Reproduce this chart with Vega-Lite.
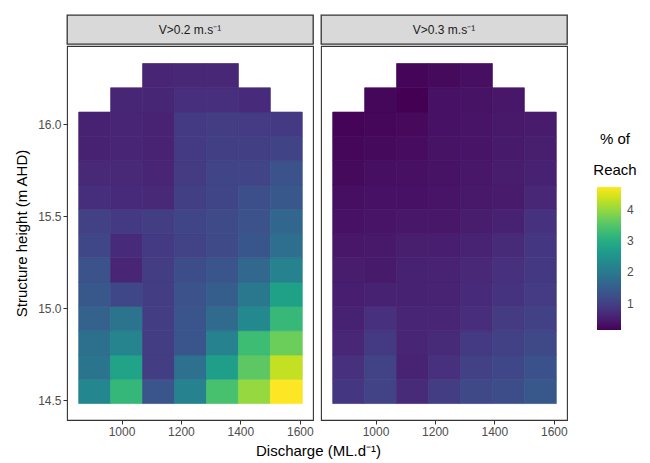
{
  "$schema": "https://vega.github.io/schema/vega-lite/v6.json",
  "background": "white",
  "padding": {"left": 14, "top": 14, "right": 5, "bottom": 5},
  "config": {
    "font": "Liberation Sans",
    "view": {"stroke": "#333333", "strokeWidth": 1.1},
    "axis": {"gridColor": "#ebebeb", "domain": false, "tickColor": "#333333", "tickSize": 4, "labelColor": "#4d4d4d", "labelFontSize": 12, "labelPadding": 2, "titleFontSize": 15, "titleFontWeight": "normal", "titleColor": "#000000", "labelFlush": false, "labelOverlap": false}
  },
  "datasets": {
    "tiles": [
      {"panel":"V>0.2","discharge":908,"height":14.551,"pct":2.24},
      {"panel":"V>0.2","discharge":1015.5,"height":14.551,"pct":3.20},
      {"panel":"V>0.2","discharge":1123,"height":14.551,"pct":1.35},
      {"panel":"V>0.2","discharge":1230.5,"height":14.551,"pct":2.17},
      {"panel":"V>0.2","discharge":1338,"height":14.551,"pct":3.40},
      {"panel":"V>0.2","discharge":1445.5,"height":14.551,"pct":4.00},
      {"panel":"V>0.2","discharge":1553,"height":14.551,"pct":4.72},
      {"panel":"V>0.2","discharge":908,"height":14.683,"pct":1.92},
      {"panel":"V>0.2","discharge":1015.5,"height":14.683,"pct":2.81},
      {"panel":"V>0.2","discharge":1123,"height":14.683,"pct":0.98},
      {"panel":"V>0.2","discharge":1230.5,"height":14.683,"pct":1.86},
      {"panel":"V>0.2","discharge":1338,"height":14.683,"pct":2.72},
      {"panel":"V>0.2","discharge":1445.5,"height":14.683,"pct":3.58},
      {"panel":"V>0.2","discharge":1553,"height":14.683,"pct":4.31},
      {"panel":"V>0.2","discharge":908,"height":14.815,"pct":1.84},
      {"panel":"V>0.2","discharge":1015.5,"height":14.815,"pct":2.20},
      {"panel":"V>0.2","discharge":1123,"height":14.815,"pct":0.97},
      {"panel":"V>0.2","discharge":1230.5,"height":14.815,"pct":1.37},
      {"panel":"V>0.2","discharge":1338,"height":14.815,"pct":2.17},
      {"panel":"V>0.2","discharge":1445.5,"height":14.815,"pct":3.29},
      {"panel":"V>0.2","discharge":1553,"height":14.815,"pct":3.70},
      {"panel":"V>0.2","discharge":908,"height":14.947,"pct":1.58},
      {"panel":"V>0.2","discharge":1015.5,"height":14.947,"pct":1.90},
      {"panel":"V>0.2","discharge":1123,"height":14.947,"pct":0.97},
      {"panel":"V>0.2","discharge":1230.5,"height":14.947,"pct":1.35},
      {"panel":"V>0.2","discharge":1338,"height":14.947,"pct":1.74},
      {"panel":"V>0.2","discharge":1445.5,"height":14.947,"pct":2.31},
      {"panel":"V>0.2","discharge":1553,"height":14.947,"pct":3.22},
      {"panel":"V>0.2","discharge":908,"height":15.079,"pct":1.42},
      {"panel":"V>0.2","discharge":1015.5,"height":15.079,"pct":1.12},
      {"panel":"V>0.2","discharge":1123,"height":15.079,"pct":0.97},
      {"panel":"V>0.2","discharge":1230.5,"height":15.079,"pct":1.31},
      {"panel":"V>0.2","discharge":1338,"height":15.079,"pct":1.51},
      {"panel":"V>0.2","discharge":1445.5,"height":15.079,"pct":1.99},
      {"panel":"V>0.2","discharge":1553,"height":15.079,"pct":2.76},
      {"panel":"V>0.2","discharge":908,"height":15.211,"pct":1.31},
      {"panel":"V>0.2","discharge":1015.5,"height":15.211,"pct":0.63},
      {"panel":"V>0.2","discharge":1123,"height":15.211,"pct":0.97},
      {"panel":"V>0.2","discharge":1230.5,"height":15.211,"pct":1.22},
      {"panel":"V>0.2","discharge":1338,"height":15.211,"pct":1.37},
      {"panel":"V>0.2","discharge":1445.5,"height":15.211,"pct":1.66},
      {"panel":"V>0.2","discharge":1553,"height":15.211,"pct":2.17},
      {"panel":"V>0.2","discharge":908,"height":15.342,"pct":1.12},
      {"panel":"V>0.2","discharge":1015.5,"height":15.342,"pct":0.72},
      {"panel":"V>0.2","discharge":1123,"height":15.342,"pct":0.93},
      {"panel":"V>0.2","discharge":1230.5,"height":15.342,"pct":1.05},
      {"panel":"V>0.2","discharge":1338,"height":15.342,"pct":1.17},
      {"panel":"V>0.2","discharge":1445.5,"height":15.342,"pct":1.38},
      {"panel":"V>0.2","discharge":1553,"height":15.342,"pct":1.80},
      {"panel":"V>0.2","discharge":908,"height":15.474,"pct":1.04},
      {"panel":"V>0.2","discharge":1015.5,"height":15.474,"pct":0.92},
      {"panel":"V>0.2","discharge":1123,"height":15.474,"pct":0.97},
      {"panel":"V>0.2","discharge":1230.5,"height":15.474,"pct":1.10},
      {"panel":"V>0.2","discharge":1338,"height":15.474,"pct":1.17},
      {"panel":"V>0.2","discharge":1445.5,"height":15.474,"pct":1.31},
      {"panel":"V>0.2","discharge":1553,"height":15.474,"pct":1.67},
      {"panel":"V>0.2","discharge":908,"height":15.606,"pct":0.76},
      {"panel":"V>0.2","discharge":1015.5,"height":15.606,"pct":0.72},
      {"panel":"V>0.2","discharge":1123,"height":15.606,"pct":0.69},
      {"panel":"V>0.2","discharge":1230.5,"height":15.606,"pct":1.00},
      {"panel":"V>0.2","discharge":1338,"height":15.606,"pct":1.10},
      {"panel":"V>0.2","discharge":1445.5,"height":15.606,"pct":1.25},
      {"panel":"V>0.2","discharge":1553,"height":15.606,"pct":1.42},
      {"panel":"V>0.2","discharge":908,"height":15.738,"pct":0.69},
      {"panel":"V>0.2","discharge":1015.5,"height":15.738,"pct":0.69},
      {"panel":"V>0.2","discharge":1123,"height":15.738,"pct":0.63},
      {"panel":"V>0.2","discharge":1230.5,"height":15.738,"pct":0.94},
      {"panel":"V>0.2","discharge":1338,"height":15.738,"pct":1.10},
      {"panel":"V>0.2","discharge":1445.5,"height":15.738,"pct":1.08},
      {"panel":"V>0.2","discharge":1553,"height":15.738,"pct":1.31},
      {"panel":"V>0.2","discharge":908,"height":15.870,"pct":0.58},
      {"panel":"V>0.2","discharge":1015.5,"height":15.870,"pct":0.62},
      {"panel":"V>0.2","discharge":1123,"height":15.870,"pct":0.60},
      {"panel":"V>0.2","discharge":1230.5,"height":15.870,"pct":0.92},
      {"panel":"V>0.2","discharge":1338,"height":15.870,"pct":1.01},
      {"panel":"V>0.2","discharge":1445.5,"height":15.870,"pct":1.01},
      {"panel":"V>0.2","discharge":1553,"height":15.870,"pct":1.07},
      {"panel":"V>0.2","discharge":908,"height":16.002,"pct":0.58},
      {"panel":"V>0.2","discharge":1015.5,"height":16.002,"pct":0.62},
      {"panel":"V>0.2","discharge":1123,"height":16.002,"pct":0.60},
      {"panel":"V>0.2","discharge":1230.5,"height":16.002,"pct":0.92},
      {"panel":"V>0.2","discharge":1338,"height":16.002,"pct":0.97},
      {"panel":"V>0.2","discharge":1445.5,"height":16.002,"pct":0.95},
      {"panel":"V>0.2","discharge":1553,"height":16.002,"pct":0.92},
      {"panel":"V>0.2","discharge":1015.5,"height":16.134,"pct":0.64},
      {"panel":"V>0.2","discharge":1123,"height":16.134,"pct":0.64},
      {"panel":"V>0.2","discharge":1230.5,"height":16.134,"pct":0.78},
      {"panel":"V>0.2","discharge":1338,"height":16.134,"pct":0.78},
      {"panel":"V>0.2","discharge":1445.5,"height":16.134,"pct":0.72},
      {"panel":"V>0.2","discharge":1123,"height":16.266,"pct":0.62},
      {"panel":"V>0.2","discharge":1230.5,"height":16.266,"pct":0.66},
      {"panel":"V>0.2","discharge":1338,"height":16.266,"pct":0.66},

      {"panel":"V>0.3","discharge":908,"height":14.551,"pct":0.87},
      {"panel":"V>0.3","discharge":1015.5,"height":14.551,"pct":1.06},
      {"panel":"V>0.3","discharge":1123,"height":14.551,"pct":0.71},
      {"panel":"V>0.3","discharge":1230.5,"height":14.551,"pct":0.97},
      {"panel":"V>0.3","discharge":1338,"height":14.551,"pct":1.15},
      {"panel":"V>0.3","discharge":1445.5,"height":14.551,"pct":1.22},
      {"panel":"V>0.3","discharge":1553,"height":14.551,"pct":1.42},
      {"panel":"V>0.3","discharge":908,"height":14.683,"pct":0.79},
      {"panel":"V>0.3","discharge":1015.5,"height":14.683,"pct":1.06},
      {"panel":"V>0.3","discharge":1123,"height":14.683,"pct":0.60},
      {"panel":"V>0.3","discharge":1230.5,"height":14.683,"pct":0.79},
      {"panel":"V>0.3","discharge":1338,"height":14.683,"pct":1.03},
      {"panel":"V>0.3","discharge":1445.5,"height":14.683,"pct":1.13},
      {"panel":"V>0.3","discharge":1553,"height":14.683,"pct":1.29},
      {"panel":"V>0.3","discharge":908,"height":14.815,"pct":0.65},
      {"panel":"V>0.3","discharge":1015.5,"height":14.815,"pct":0.92},
      {"panel":"V>0.3","discharge":1123,"height":14.815,"pct":0.62},
      {"panel":"V>0.3","discharge":1230.5,"height":14.815,"pct":0.71},
      {"panel":"V>0.3","discharge":1338,"height":14.815,"pct":0.92},
      {"panel":"V>0.3","discharge":1445.5,"height":14.815,"pct":1.04},
      {"panel":"V>0.3","discharge":1553,"height":14.815,"pct":1.15},
      {"panel":"V>0.3","discharge":908,"height":14.947,"pct":0.58},
      {"panel":"V>0.3","discharge":1015.5,"height":14.947,"pct":0.79},
      {"panel":"V>0.3","discharge":1123,"height":14.947,"pct":0.62},
      {"panel":"V>0.3","discharge":1230.5,"height":14.947,"pct":0.63},
      {"panel":"V>0.3","discharge":1338,"height":14.947,"pct":0.74},
      {"panel":"V>0.3","discharge":1445.5,"height":14.947,"pct":0.94},
      {"panel":"V>0.3","discharge":1553,"height":14.947,"pct":1.04},
      {"panel":"V>0.3","discharge":908,"height":15.079,"pct":0.54},
      {"panel":"V>0.3","discharge":1015.5,"height":15.079,"pct":0.58},
      {"panel":"V>0.3","discharge":1123,"height":15.079,"pct":0.58},
      {"panel":"V>0.3","discharge":1230.5,"height":15.079,"pct":0.60},
      {"panel":"V>0.3","discharge":1338,"height":15.079,"pct":0.72},
      {"panel":"V>0.3","discharge":1445.5,"height":15.079,"pct":0.83},
      {"panel":"V>0.3","discharge":1553,"height":15.079,"pct":0.95},
      {"panel":"V>0.3","discharge":908,"height":15.211,"pct":0.51},
      {"panel":"V>0.3","discharge":1015.5,"height":15.211,"pct":0.47},
      {"panel":"V>0.3","discharge":1123,"height":15.211,"pct":0.58},
      {"panel":"V>0.3","discharge":1230.5,"height":15.211,"pct":0.60},
      {"panel":"V>0.3","discharge":1338,"height":15.211,"pct":0.67},
      {"panel":"V>0.3","discharge":1445.5,"height":15.211,"pct":0.79},
      {"panel":"V>0.3","discharge":1553,"height":15.211,"pct":0.90},
      {"panel":"V>0.3","discharge":908,"height":15.342,"pct":0.44},
      {"panel":"V>0.3","discharge":1015.5,"height":15.342,"pct":0.46},
      {"panel":"V>0.3","discharge":1123,"height":15.342,"pct":0.53},
      {"panel":"V>0.3","discharge":1230.5,"height":15.342,"pct":0.54},
      {"panel":"V>0.3","discharge":1338,"height":15.342,"pct":0.60},
      {"panel":"V>0.3","discharge":1445.5,"height":15.342,"pct":0.71},
      {"panel":"V>0.3","discharge":1553,"height":15.342,"pct":0.88},
      {"panel":"V>0.3","discharge":908,"height":15.474,"pct":0.37},
      {"panel":"V>0.3","discharge":1015.5,"height":15.474,"pct":0.40},
      {"panel":"V>0.3","discharge":1123,"height":15.474,"pct":0.44},
      {"panel":"V>0.3","discharge":1230.5,"height":15.474,"pct":0.44},
      {"panel":"V>0.3","discharge":1338,"height":15.474,"pct":0.51},
      {"panel":"V>0.3","discharge":1445.5,"height":15.474,"pct":0.58},
      {"panel":"V>0.3","discharge":1553,"height":15.474,"pct":0.81},
      {"panel":"V>0.3","discharge":908,"height":15.606,"pct":0.33},
      {"panel":"V>0.3","discharge":1015.5,"height":15.606,"pct":0.37},
      {"panel":"V>0.3","discharge":1123,"height":15.606,"pct":0.37},
      {"panel":"V>0.3","discharge":1230.5,"height":15.606,"pct":0.40},
      {"panel":"V>0.3","discharge":1338,"height":15.606,"pct":0.46},
      {"panel":"V>0.3","discharge":1445.5,"height":15.606,"pct":0.49},
      {"panel":"V>0.3","discharge":1553,"height":15.606,"pct":0.66},
      {"panel":"V>0.3","discharge":908,"height":15.738,"pct":0.28},
      {"panel":"V>0.3","discharge":1015.5,"height":15.738,"pct":0.33},
      {"panel":"V>0.3","discharge":1123,"height":15.738,"pct":0.35},
      {"panel":"V>0.3","discharge":1230.5,"height":15.738,"pct":0.38},
      {"panel":"V>0.3","discharge":1338,"height":15.738,"pct":0.44},
      {"panel":"V>0.3","discharge":1445.5,"height":15.738,"pct":0.51},
      {"panel":"V>0.3","discharge":1553,"height":15.738,"pct":0.58},
      {"panel":"V>0.3","discharge":908,"height":15.870,"pct":0.24},
      {"panel":"V>0.3","discharge":1015.5,"height":15.870,"pct":0.28},
      {"panel":"V>0.3","discharge":1123,"height":15.870,"pct":0.30},
      {"panel":"V>0.3","discharge":1230.5,"height":15.870,"pct":0.38},
      {"panel":"V>0.3","discharge":1338,"height":15.870,"pct":0.40},
      {"panel":"V>0.3","discharge":1445.5,"height":15.870,"pct":0.47},
      {"panel":"V>0.3","discharge":1553,"height":15.870,"pct":0.53},
      {"panel":"V>0.3","discharge":908,"height":16.002,"pct":0.21},
      {"panel":"V>0.3","discharge":1015.5,"height":16.002,"pct":0.24},
      {"panel":"V>0.3","discharge":1123,"height":16.002,"pct":0.26},
      {"panel":"V>0.3","discharge":1230.5,"height":16.002,"pct":0.37},
      {"panel":"V>0.3","discharge":1338,"height":16.002,"pct":0.40},
      {"panel":"V>0.3","discharge":1445.5,"height":16.002,"pct":0.46},
      {"panel":"V>0.3","discharge":1553,"height":16.002,"pct":0.49},
      {"panel":"V>0.3","discharge":1015.5,"height":16.134,"pct":0.24},
      {"panel":"V>0.3","discharge":1123,"height":16.134,"pct":0.17},
      {"panel":"V>0.3","discharge":1230.5,"height":16.134,"pct":0.37},
      {"panel":"V>0.3","discharge":1338,"height":16.134,"pct":0.38},
      {"panel":"V>0.3","discharge":1445.5,"height":16.134,"pct":0.44},
      {"panel":"V>0.3","discharge":1123,"height":16.266,"pct":0.22},
      {"panel":"V>0.3","discharge":1230.5,"height":16.266,"pct":0.28},
      {"panel":"V>0.3","discharge":1338,"height":16.266,"pct":0.33}
    ]
  },
  "spacing": 0,
  "vconcat": [
    {
      "spacing": 8,
      "bounds": "flush",
      "hconcat": [
        {
          "width": 246, "height": 29,
          "view": {"fill": "#d9d9d9", "stroke": "#333333", "strokeWidth": 1.3},
          "data": {"values": [{"label": "V>0.2 m.s⁻¹"}]},
          "mark": {"type": "text", "fontSize": 12, "color": "#1a1a1a", "baseline": "middle", "align": "center"},
          "encoding": {"text": {"field": "label"}}
        },
        {
          "width": 246, "height": 29,
          "view": {"fill": "#d9d9d9", "stroke": "#333333", "strokeWidth": 1.3},
          "data": {"values": [{"label": "V>0.3 m.s⁻¹"}]},
          "mark": {"type": "text", "fontSize": 12, "color": "#1a1a1a", "baseline": "middle", "align": "center"},
          "encoding": {"text": {"field": "label"}}
        }
      ]
    },
    {
      "spacing": 8,
      "bounds": "flush",
      "hconcat": [
        {
          "width": 246, "height": 374,
          "data": {"name": "tiles"},
          "transform": [{"filter": "datum.panel == 'V>0.2'"}],
          "mark": {"type": "rect", "binSpacing": 0, "strokeWidth": 0.7, "stroke": {"expr": "scale('color', datum.pct)"}},
          "encoding": {
            "x": {"field": "discharge", "type": "quantitative",
              "bin": {"step": 107.5, "extent": [854.25, 1606.75], "nice": false},
              "scale": {"domain": [816.6, 1644.4], "nice": false, "zero": false},
              "axis": {"values": [900, 1000, 1100, 1200, 1300, 1400, 1500, 1600], "format": "d",
                "labelExpr": "datum.value % 200 == 0 ? datum.label : ''",
                "tickOpacity": {"condition": {"test": "datum.value % 200 == 0", "value": 1}, "value": 0},
                "gridWidth": {"condition": {"test": "datum.value % 200 == 0", "value": 1.1}, "value": 0.6},
                "title": "Discharge (ML.d⁻¹)", "titleX": 251, "titlePadding": 6}},
            "y": {"field": "height", "type": "quantitative",
              "bin": {"step": 0.1319, "extent": [14.485, 16.3316], "nice": false},
              "scale": {"domain": [14.393, 16.424], "nice": false, "zero": false},
              "axis": {"values": [14.5, 14.75, 15, 15.25, 15.5, 15.75, 16, 16.25], "format": ".1f",
                "labelExpr": "datum.value % 0.5 == 0 ? datum.label : ''",
                "tickOpacity": {"condition": {"test": "datum.value % 0.5 == 0", "value": 1}, "value": 0},
                "gridWidth": {"condition": {"test": "datum.value % 0.5 == 0", "value": 1.1}, "value": 0.6},
                "title": "Structure height (m AHD)", "titlePadding": 8}},
            "color": {"field": "pct", "type": "quantitative",
              "scale": {"scheme": "viridis", "domain": [0.17, 4.72], "nice": false},
              "legend": {"orient": "none", "legendX": 526, "legendY": 117, "direction": "vertical",
                "gradientLength": 143, "gradientThickness": 24, "gradientStrokeWidth": 0,
                "values": [1, 2, 3, 4], "labelFontSize": 12, "labelColor": "#4d4d4d", "labelOffset": 6,
                "title": ["% of", "Reach"], "titleFontSize": 15, "titleFontWeight": "normal", "titleColor": "#000000",
                "titleLineHeight": 31, "titleAnchor": "middle", "titleAlign": "center", "titlePadding": 9}}
          }
        },
        {
          "width": 246, "height": 374,
          "data": {"name": "tiles"},
          "transform": [{"filter": "datum.panel == 'V>0.3'"}],
          "mark": {"type": "rect", "binSpacing": 0, "strokeWidth": 0.7, "stroke": {"expr": "scale('color', datum.pct)"}},
          "encoding": {
            "x": {"field": "discharge", "type": "quantitative",
              "bin": {"step": 107.5, "extent": [854.25, 1606.75], "nice": false},
              "scale": {"domain": [816.6, 1644.4], "nice": false, "zero": false},
              "axis": {"values": [900, 1000, 1100, 1200, 1300, 1400, 1500, 1600], "format": "d",
                "labelExpr": "datum.value % 200 == 0 ? datum.label : ''",
                "tickOpacity": {"condition": {"test": "datum.value % 200 == 0", "value": 1}, "value": 0},
                "gridWidth": {"condition": {"test": "datum.value % 200 == 0", "value": 1.1}, "value": 0.6},
                "title": null}},
            "y": {"field": "height", "type": "quantitative",
              "bin": {"step": 0.1319, "extent": [14.485, 16.3316], "nice": false},
              "scale": {"domain": [14.393, 16.424], "nice": false, "zero": false},
              "axis": {"values": [14.5, 14.75, 15, 15.25, 15.5, 15.75, 16, 16.25],
                "labels": false, "ticks": false, "title": null,
                "gridWidth": {"condition": {"test": "datum.value % 0.5 == 0", "value": 1.1}, "value": 0.6}}},
            "color": {"field": "pct", "type": "quantitative",
              "scale": {"scheme": "viridis", "domain": [0.17, 4.72], "nice": false}}
          }
        }
      ]
    }
  ]
}
